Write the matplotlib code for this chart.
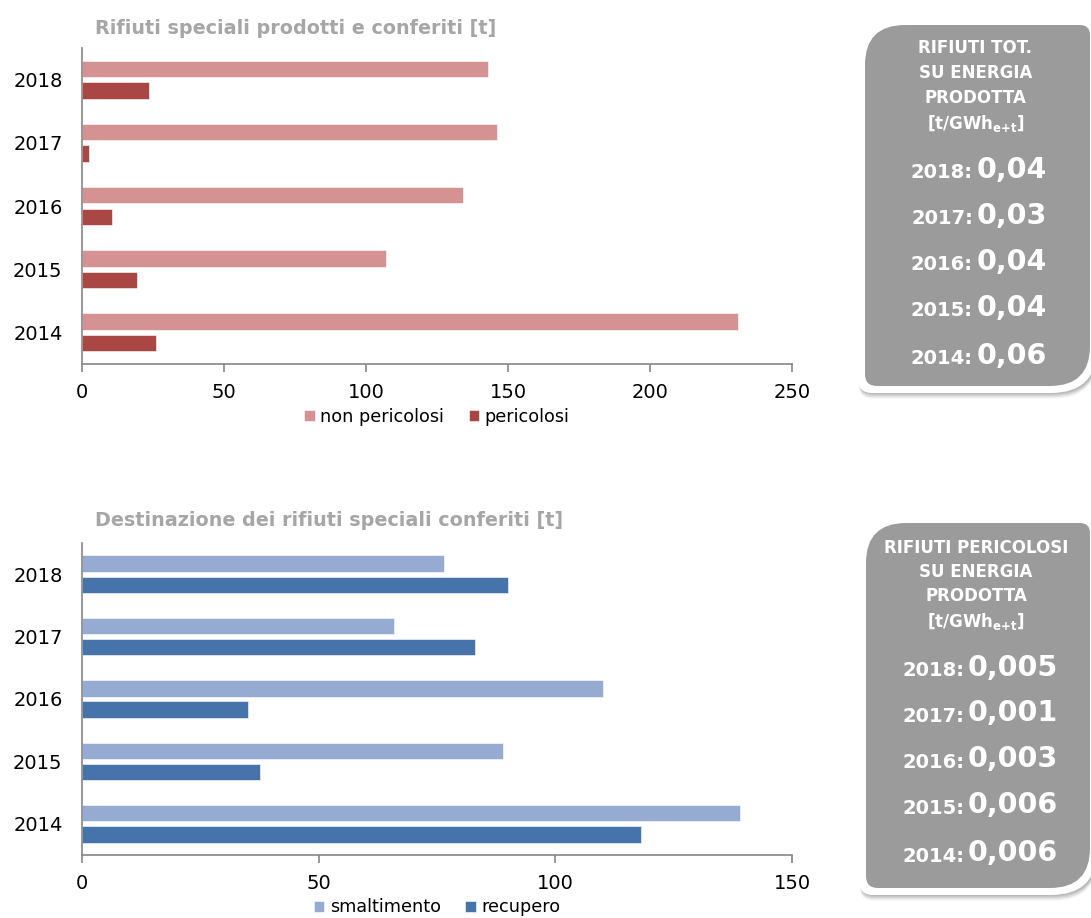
import matplotlib
matplotlib.use("Agg")
import matplotlib.pyplot as plt
import numpy as np
from matplotlib.path import Path
from matplotlib.patches import PathPatch

plt.rcParams["font.family"] = ["DejaVu Sans"]
plt.rcParams["mathtext.fontset"] = "custom"
plt.rcParams["mathtext.bf"] = "DejaVu Sans:bold"
plt.rcParams["mathtext.rm"] = "DejaVu Sans:bold"
plt.rcParams["mathtext.default"] = "bf"

# data
years = ["2014", "2015", "2016", "2017", "2018"]
non_pericolosi = [231, 107, 134, 146, 143]
pericolosi = [26, 19.5, 10.5, 2.5, 23.5]
smaltimento = [139, 89, 110, 66, 76.5]
recupero = [118, 37.5, 35, 83, 90]

box1_title = ["RIFIUTI TOT.", "SU ENERGIA", "PRODOTTA", r"[t/GWh$_{e{+}t}$]"]
box1_years = ["2018:", "2017:", "2016:", "2015:", "2014:"]
box1_values = ["0,04", "0,03", "0,04", "0,04", "0,06"]
box2_title = ["RIFIUTI PERICOLOSI", "SU ENERGIA", "PRODOTTA", r"[t/GWh$_{e{+}t}$]"]
box2_years = ["2018:", "2017:", "2016:", "2015:", "2014:"]
box2_values = ["0,005", "0,001", "0,003", "0,006", "0,006"]

W, H = 1091, 918
fig = plt.figure(figsize=(W / 100, H / 100), dpi=100)

spine_col = "#868686"
title_col = "#A6A6A6"


def bar_chart(rect, a, b, ca, cb, la, lb, xmax, title, title_y):
    ax = fig.add_axes(rect)
    y = np.arange(len(years))
    h = 0.26
    ax.barh(y + 0.17, a, height=h, color=ca, label=la, edgecolor="white", linewidth=0.4)
    ax.barh(y - 0.17, b, height=h, color=cb, label=lb, edgecolor="white", linewidth=0.4)
    ax.set_ylim(-0.5, len(years) - 0.5)
    ax.set_xlim(0, xmax)
    ax.set_xticks(np.arange(0, xmax + 1, 50))
    ax.set_yticks(y)
    ax.set_yticklabels(years)
    for s in ["top", "right"]:
        ax.spines[s].set_visible(False)
    for s in ["left", "bottom"]:
        ax.spines[s].set_color(spine_col)
        ax.spines[s].set_linewidth(1.2)
    ax.tick_params(axis="x", length=6, width=1.2, color=spine_col, labelsize=14, pad=8)
    ax.tick_params(axis="y", length=0, labelsize=14, pad=14)
    ax.legend(loc="center", bbox_to_anchor=(0.5, -0.168), ncol=2, frameon=False,
              fontsize=12.7, handlelength=0.6, handleheight=0.6, handletextpad=0.3,
              columnspacing=1.4, borderpad=0)
    fig.text(95 / W, 1 - title_y / H, title, ha="left", va="center",
             fontsize=13.8, fontweight="bold", color=title_col)
    return ax


bar_chart([82 / W, 1 - 364 / H, 710 / W, 316 / H], non_pericolosi, pericolosi,
          "#D49292", "#A94744", "non pericolosi", "pericolosi", 250,
          "Rifiuti speciali prodotti e conferiti [t]", 29)
bar_chart([82 / W, 1 - 855 / H, 710 / W, 312 / H], smaltimento, recupero,
          "#95ABD2", "#4674AA", "smaltimento", "recupero", 150,
          "Destinazione dei rifiuti speciali conferiti [t]", 521)

# overlay in pixel coords for the boxes
ov = fig.add_axes([0, 0, 1, 1], zorder=5)
ov.set_xlim(0, W)
ov.set_ylim(H, 0)
ov.axis("off")
ov.patch.set_alpha(0)


def rounded(x0, y0, x1, y1, rtl, rtr, rbr, rbl):
    verts = [(x0 + rtl, y0), (x1 - rtr, y0), (x1, y0), (x1, y0 + rtr),
             (x1, y1 - rbr), (x1, y1), (x1 - rbr, y1),
             (x0 + rbl, y1), (x0, y1), (x0, y1 - rbl),
             (x0, y0 + rtl), (x0, y0), (x0 + rtl, y0), (x0 + rtl, y0)]
    codes = [Path.MOVETO, Path.LINETO, Path.CURVE3, Path.CURVE3,
             Path.LINETO, Path.CURVE3, Path.CURVE3,
             Path.LINETO, Path.CURVE3, Path.CURVE3,
             Path.LINETO, Path.CURVE3, Path.CURVE3, Path.CLOSEPOLY]
    return Path(verts, codes)


def info_box(x0, y0, x1, y1, title_lines, yrs, vals, head_y, val_y, split):
    for k, al in zip(range(6, 0, -1), [0.05, 0.07, 0.09, 0.11, 0.13, 0.15]):
        p = rounded(x0 - 7 + 1, y0 - 7 + 2, x1 + 7 + 1, y1 + 7 + k, 45, 14, 45, 14)
        ov.add_patch(PathPatch(p, facecolor="#707070", edgecolor="none", alpha=al))
    ov.add_patch(PathPatch(rounded(x0 - 7, y0 - 7, x1 + 7, y1 + 7, 46, 14, 46, 14),
                           facecolor="white", edgecolor="none"))
    ov.add_patch(PathPatch(rounded(x0, y0, x1, y1, 40, 10, 40, 12),
                           facecolor="#9B9B9B", edgecolor="none"))
    cx = (x0 + x1) / 2 - 2
    for i, t in enumerate(title_lines):
        ov.text(cx, head_y[i], t, ha="center", va="center", color="white",
                fontsize=12, fontweight="bold")
    for i in range(len(yrs)):
        ov.text(split, val_y[i] + 3, yrs[i], ha="right", va="center", color="white",
                fontsize=14, fontweight="bold")
        ov.text(split + 4, val_y[i], vals[i], ha="left", va="center", color="white",
                fontsize=20.5, fontweight="bold")


info_box(865, 25, 1090, 386, box1_title, box1_years, box1_values,
         [48, 73, 98, 123], [170, 216, 262, 308, 356], 973)
info_box(866, 523, 1090, 888, box2_title, box2_years, box2_values,
         [548, 572, 596, 621], [668, 713, 759, 805, 853], 964)

fig.savefig("out.png", dpi=100)
